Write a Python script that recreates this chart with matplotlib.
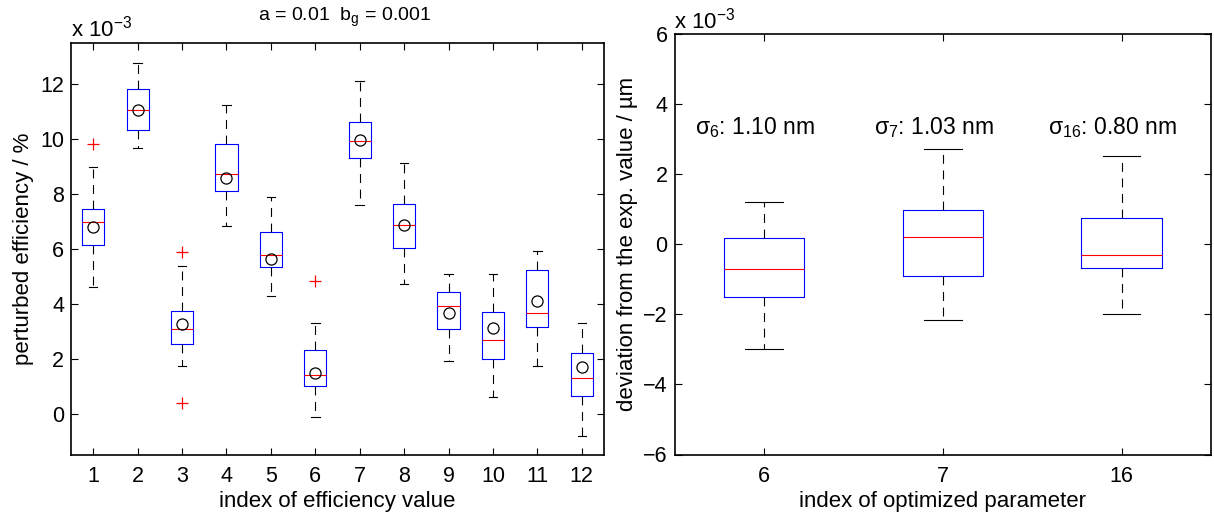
import matplotlib
matplotlib.use("Agg")
import matplotlib.pyplot as plt

plt.rcParams['font.family'] = ['Liberation Sans', 'DejaVu Sans']
plt.rcParams['mathtext.fontset'] = 'custom'
plt.rcParams['mathtext.rm'] = 'Liberation Sans'
plt.rcParams['mathtext.it'] = 'Liberation Sans'
plt.rcParams['mathtext.default'] = 'regular'

# ---- left panel data (units of 1e-3) ----
eff_labels = [str(i) for i in range(1, 13)]
eff_whislo = [4.61, 9.69, 1.75, 6.85, 4.29, -0.10, 7.61, 4.73, 1.92, 0.62, 1.75, -0.80]
eff_q1     = [6.13, 10.34, 2.54, 8.12, 5.33, 1.02, 9.31, 6.04, 3.09, 2.01, 3.15, 0.63]
eff_med    = [6.98, 11.07, 3.09, 8.73, 5.78, 1.43, 9.94, 6.86, 3.94, 2.69, 3.67, 1.29]
eff_q3     = [7.47, 11.82, 3.75, 9.82, 6.62, 2.32, 10.64, 7.65, 4.43, 3.71, 5.24, 2.23]
eff_whishi = [9.00, 12.77, 5.38, 11.25, 7.88, 3.32, 12.10, 9.14, 5.10, 5.10, 5.92, 3.32]
eff_mean   = [6.80, 11.07, 3.26, 8.60, 5.63, 1.47, 9.96, 6.86, 3.67, 3.12, 4.12, 1.70]
eff_fliers = [[9.82], [], [5.88, 0.40], [], [], [4.84], [], [], [], [], [], []]

# ---- right panel data (units of 1e-3) ----
par_labels = ['6', '7', '16']
par_whislo = [-2.98, -2.18, -2.00]
par_q1     = [-1.51, -0.91, -0.67]
par_med    = [-0.70, 0.21, -0.31]
par_q3     = [0.17, 0.96, 0.74]
par_whishi = [1.21, 2.72, 2.52]
par_sigma  = ['1.10', '1.03', '0.80']

W, H = 1214, 515
fig = plt.figure(figsize=(W / 100, H / 100), dpi=100)

L1, R1, T1, B1 = 71, 604, 43, 455
L2, R2, T2, B2 = 674.5, 1211, 33.5, 454.5
ax1 = fig.add_axes([L1 / W, 1 - B1 / H, (R1 - L1) / W, (B1 - T1) / H])
ax2 = fig.add_axes([L2 / W, 1 - B2 / H, (R2 - L2) / W, (B2 - T2) / H])

blue = '#0000ff'
red = '#ff0000'
lw = 0.8

def make_stats(labels, lo, q1, med, q3, hi, means=None, fliers=None):
    stats = []
    for i in range(len(labels)):
        d = dict(label=labels[i], whislo=lo[i], q1=q1[i], med=med[i], q3=q3[i],
                 whishi=hi[i], fliers=(fliers[i] if fliers else []))
        if means is not None:
            d['mean'] = means[i]
        stats.append(d)
    return stats

common = dict(
    boxprops=dict(color=blue, linewidth=lw),
    medianprops=dict(color=red, linewidth=lw),
    whiskerprops=dict(color='black', linewidth=lw, linestyle=(0, (8, 6))),
    capprops=dict(color='black', linewidth=lw),
    flierprops=dict(marker='+', markeredgecolor=red, markersize=8, markeredgewidth=0.9, linestyle='none'),
    meanprops=dict(marker='o', markerfacecolor='none', markeredgecolor='black', markersize=8, markeredgewidth=0.9),
)

st1 = make_stats(eff_labels, eff_whislo, eff_q1, eff_med, eff_q3, eff_whishi, eff_mean, eff_fliers)
ax1.bxp(st1, positions=range(1, 13), widths=0.5, capwidths=0.19, showmeans=True, **common)

st2 = make_stats(par_labels, par_whislo, par_q1, par_med, par_q3, par_whishi)
ax2.bxp(st2, positions=[1, 2, 3], widths=0.45, capwidths=0.21, showmeans=False, **common)

fs = 16
tfs = 15.5
for ax in (ax1, ax2):
    ax.tick_params(direction='in', top=True, right=True, length=5, width=0.8, labelsize=tfs)
    ax.tick_params(axis='x', pad=8)
    ax.tick_params(axis='y', pad=5)
    for s in ax.spines.values():
        s.set_linewidth(1.2)

ax1.set_xlim(0.5, 12.5)
ax1.set_ylim(-1.5, 13.5)
ax1.set_yticks([0, 2, 4, 6, 8, 10, 12])
ax1.set_xticks(range(1, 13))
ax1.set_xticklabels(eff_labels)
ax1.set_xlabel('index of efficiency value', fontsize=fs, labelpad=3)
ax1.set_ylabel('perturbed efficiency / %', fontsize=fs, labelpad=4)
ax1.text((345 - L1) / (R1 - L1), (B1 - 20.7) / (B1 - T1), 'a = 0.01  b$_g$ = 0.001',
         transform=ax1.transAxes, ha='center', va='baseline', fontsize=14)
ax1.text(0.0, (B1 - 37) / (B1 - T1), r'x 10$^{-3}$', transform=ax1.transAxes,
         ha='left', va='baseline', fontsize=fs)

ax2.set_xlim(0.5, 3.5)
ax2.set_ylim(-6, 6)
ax2.set_yticks([-6, -4, -2, 0, 2, 4, 6])
ax2.set_xticks([1, 2, 3])
ax2.set_xticklabels(par_labels)
ax2.set_xlabel('index of optimized parameter', fontsize=fs, labelpad=3)
ax2.set_ylabel('deviation from the exp. value / µm', fontsize=fs, labelpad=4)
ax2.text(0.0, (B2 - 28.5) / (B2 - T2), r'x 10$^{-3}$', transform=ax2.transAxes,
         ha='left', va='baseline', fontsize=fs)
for i, (lab, sg) in enumerate(zip(par_labels, par_sigma)):
    ax2.text(i + 1 - 0.05, 3.12, r'$\sigma_{%s}$: %s nm' % (lab, sg), ha='center', va='baseline', fontsize=16.5)

fig.savefig('out.png', dpi=100)
